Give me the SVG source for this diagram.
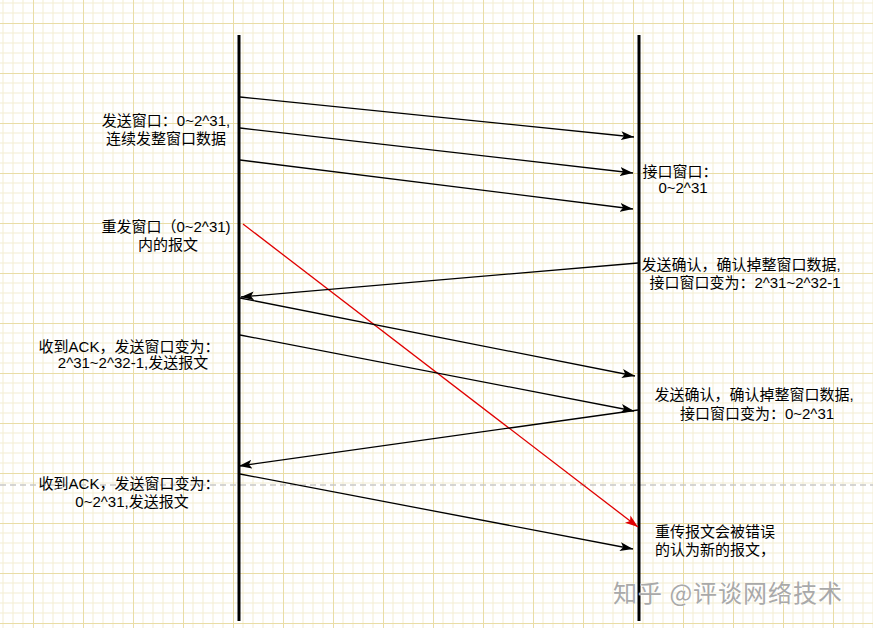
<svg xmlns="http://www.w3.org/2000/svg" width="873" height="628" viewBox="0 0 873 628">
<defs>
<pattern id="grid" patternUnits="userSpaceOnUse" x="33" y="23" width="50" height="50">
<rect width="50" height="50" fill="#ffffff"/>
<path d="M10 0V50M20 0V50M30 0V50M40 0V50M0 10H50M0 20H50M0 30H50M0 40H50" stroke="#f4eed4" stroke-width="1" fill="none"/>
<path d="M0.5 0V50M0 0.5H50" stroke="#e9dda6" stroke-width="1" fill="none"/>
</pattern>
<marker id="ab" markerUnits="userSpaceOnUse" markerWidth="14" markerHeight="10" refX="13" refY="5" orient="auto">
<path d="M0 0.5 L13 5 L0 9.5 L3 5 Z" fill="#000"/>
</marker>
<marker id="ar" markerUnits="userSpaceOnUse" markerWidth="14" markerHeight="10" refX="13" refY="5" orient="auto">
<path d="M0 0.5 L13 5 L0 9.5 L3 5 Z" fill="#e00000"/>
</marker>
</defs>
<style>
.t{font-family:"Liberation Sans","Noto Sans CJK SC",sans-serif;font-size:15px;fill:#000}
.m{text-anchor:middle}
.life{stroke:#000;stroke-width:3}
.msg{stroke:#000;stroke-width:1.3;fill:none;marker-end:url(#ab)}
.red{stroke:#e00000;stroke-width:1.3;fill:none;marker-end:url(#ar)}
.wm{font-family:"Noto Sans CJK SC",sans-serif;font-size:24px;letter-spacing:1px;fill:#a9a9a9;stroke:#ffffff;stroke-width:0.6;paint-order:stroke}
</style>
<rect width="873" height="628" fill="url(#grid)"/>
<line x1="0" y1="485" x2="873" y2="485" stroke="#c8c8c8" stroke-width="1.5" stroke-dasharray="6 4"/>
<g id="lifeline-sender"><line class="life" x1="239" y1="35" x2="239" y2="621"/></g>
<g id="lifeline-receiver"><line class="life" x1="639" y1="35" x2="639" y2="621"/></g>
<g id="connectors">
<line class="msg" x1="240" y1="97" x2="634" y2="137"/>
<line class="msg" x1="240" y1="128" x2="633" y2="173"/>
<line class="msg" x1="240" y1="160" x2="633" y2="209"/>
<line class="red" x1="243" y1="224" x2="638" y2="527"/>
<line class="msg" x1="638" y1="263" x2="241" y2="297"/>
<line class="msg" x1="240" y1="298" x2="635" y2="376"/>
<line class="msg" x1="240" y1="335" x2="634" y2="411"/>
<line class="msg" x1="638" y1="410" x2="239" y2="466"/>
<line class="msg" x1="240" y1="474" x2="633" y2="549"/>
</g>
<g id="label-send-window"><text class="t m" x="166" y="126">发送窗口：0~2^31,</text><text class="t m" x="166" y="144">连续发整窗口数据</text></g>
<g id="label-resend-window"><text class="t m" x="166" y="232">重发窗口（0~2^31)</text><text class="t m" x="168" y="250">内的报文</text></g>
<g id="label-recv-window"><text class="t m" x="680" y="177">接口窗口：</text><text class="t m" x="683" y="193">0~2^31</text></g>
<g id="label-ack1"><text class="t m" x="741" y="270">发送确认，确认掉整窗口数据,</text><text class="t m" x="745" y="288">接口窗口变为：2^31~2^32-1</text></g>
<g id="label-recv-ack1"><text class="t m" x="129" y="352">收到ACK，发送窗口变为：</text><text class="t m" x="133" y="368">2^31~2^32-1,发送报文</text></g>
<g id="label-ack2"><text class="t m" x="754" y="400">发送确认，确认掉整窗口数据,</text><text class="t m" x="757" y="419">接口窗口变为：0~2^31</text></g>
<g id="label-recv-ack2"><text class="t m" x="129" y="489">收到ACK，发送窗口变为：</text><text class="t m" x="132" y="507">0~2^31,发送报文</text></g>
<g id="label-retrans"><text class="t" x="655" y="537">重传报文会被错误</text><text class="t" x="655" y="555">的认为新的报文，</text></g>
<text class="wm" x="613" y="602">知乎 @评谈网络技术</text>
</svg>
